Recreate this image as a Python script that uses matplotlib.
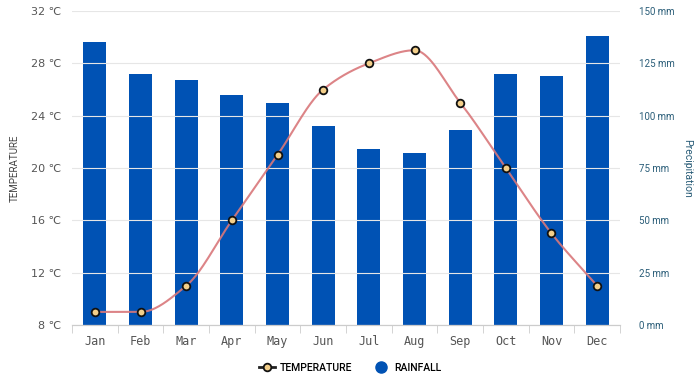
import numpy as np
import matplotlib
matplotlib.use("Agg")
import matplotlib.pyplot as plt
from matplotlib.lines import Line2D

months = ["Jan", "Feb", "Mar", "Apr", "May", "Jun", "Jul", "Aug", "Sep", "Oct", "Nov", "Dec"]
temperature = [9, 9, 11, 16, 21, 26, 28, 29, 25, 20, 15, 11]
rainfall = [135, 120, 117, 110, 106, 95, 84, 82, 93, 120, 119, 138]
temp_ticks = [8, 12, 16, 20, 24, 28, 32]
rain_ticks = [0, 25, 50, 75, 100, 125, 150]


def pchip(x, y, xs):
    x = np.asarray(x, float); y = np.asarray(y, float)
    h = np.diff(x); d = np.diff(y) / h
    n = len(x); m = np.zeros(n)
    for k in range(1, n - 1):
        if d[k - 1] * d[k] > 0:
            w1 = 2 * h[k] + h[k - 1]; w2 = h[k] + 2 * h[k - 1]
            m[k] = (w1 + w2) / (w1 / d[k - 1] + w2 / d[k])
    m[0] = d[0]; m[-1] = d[-1]
    out = np.empty_like(xs)
    for i, xv in enumerate(xs):
        k = min(np.searchsorted(x, xv, side="right") - 1, n - 2)
        t = (xv - x[k]) / h[k]
        h00 = 2 * t**3 - 3 * t**2 + 1; h10 = t**3 - 2 * t**2 + t
        h01 = -2 * t**3 + 3 * t**2; h11 = t**3 - t**2
        out[i] = h00 * y[k] + h10 * h[k] * m[k] + h01 * y[k + 1] + h11 * h[k] * m[k + 1]
    return out


fig = plt.figure(figsize=(7, 3.76), dpi=100)
ax = fig.add_axes([0.1029, 0.1356, 0.7828, 0.8351])
ax2 = ax.twinx()

x = np.arange(len(months))
ax2.bar(x, rainfall, width=0.5, color="#0052b4", zorder=2)
ax2.set_ylim(0, 150)

ax.set_ylim(8, 32)
ax.set_xlim(-0.5, len(months) - 0.5)
ax.set_zorder(ax2.get_zorder() + 1)
ax.patch.set_visible(False)

xs = np.linspace(0, len(months) - 1, 400)
ax.plot(xs, pchip(x, temperature, xs), color="#d9777a", lw=1.5, alpha=0.9, zorder=3)
ax.plot(x, temperature, "o", ms=5.5, mfc="#f3cf8a", mec="#111111", mew=1.3, zorder=4)

ax.set_yticks(temp_ticks)
ax.set_yticklabels([f"{t} ℃" for t in temp_ticks], fontsize=8, color="#555555",
                   family=["DejaVu Sans"])
ax2.set_yticks(rain_ticks)
ax2.set_yticklabels([f"{r} mm" for r in rain_ticks], fontsize=7, color="#2a5d78",
                    family=["Roboto", "DejaVu Sans"])
ax.grid(axis="y", color="#e6e6e6", lw=0.8)
ax.set_axisbelow(True)

ax.set_xticks(x)
ax.set_xticklabels(months, fontsize=8.5, color="#555555", family="DejaVu Sans Mono")
ax.set_xticks(np.arange(-0.5, len(months), 1), minor=True)
ax.tick_params(axis="x", which="major", length=0, pad=7)
ax.tick_params(axis="x", which="minor", length=6, color="#cccccc")
ax.tick_params(axis="y", length=0, pad=8)
ax2.tick_params(axis="y", length=0, pad=14)

for a in (ax, ax2):
    for s in ("top", "left", "right"):
        a.spines[s].set_visible(False)
    a.spines["bottom"].set_color("#cccccc")

ax.set_ylabel("TEMPERATURE", fontsize=7, color="#444444", labelpad=8, family=["Roboto", "DejaVu Sans"])
ax2.set_ylabel("Precipitation", fontsize=7.5, color="#2a5d78", rotation=270, labelpad=12,
               family=["Roboto", "DejaVu Sans"])

handles = [
    Line2D([0], [0], color="#222222", lw=2, marker="o", ms=5.5, mfc="#f3cf8a", mec="#111111", mew=1.3),
    Line2D([0], [0], color="none", marker="o", ms=8, mfc="#0052b4", mec="#0052b4"),
]
fig.legend(handles, ["TEMPERATURE", "RAINFALL"], loc="center", bbox_to_anchor=(0.5, 0.022),
           ncol=2, frameon=False, handlelength=1.5, columnspacing=2.0,
           handletextpad=0.5, prop={"family": ["Roboto", "DejaVu Sans"], "size": 7.5, "weight": "medium"})

fig.savefig("out.png", dpi=100)
